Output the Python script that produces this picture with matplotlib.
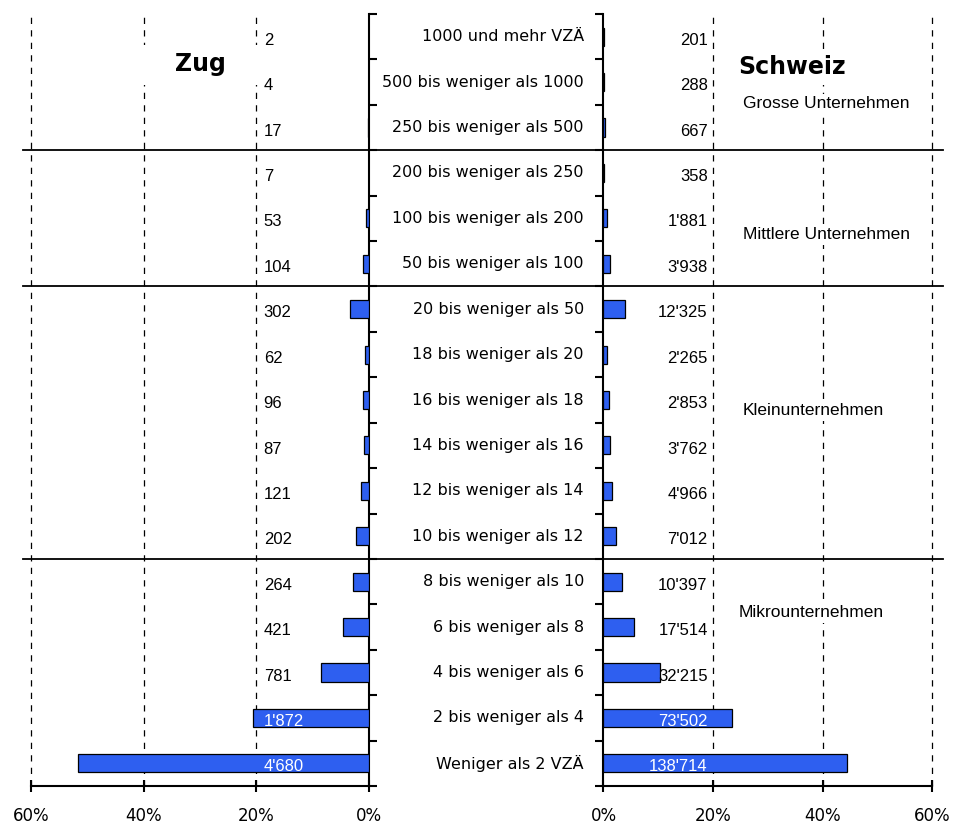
import numpy as np
import matplotlib
matplotlib.use("Agg")
import matplotlib.pyplot as plt
import matplotlib.transforms as mtransforms
from matplotlib.patches import Rectangle

plt.rcParams['font.family'] = ['Liberation Sans', 'DejaVu Sans']

# Grössenklassen (Vollzeitäquivalente), von oben nach unten
klassen = ["1000 und mehr VZÄ", "500 bis weniger als 1000", "250 bis weniger als 500",
           "200 bis weniger als 250", "100 bis weniger als 200", "50 bis weniger als 100",
           "20 bis weniger als 50", "18 bis weniger als 20", "16 bis weniger als 18",
           "14 bis weniger als 16", "12 bis weniger als 14", "10 bis weniger als 12",
           "8 bis weniger als 10", "6 bis weniger als 8", "4 bis weniger als 6",
           "2 bis weniger als 4", "Weniger als 2 VZÄ"]
zug = [2, 4, 17, 7, 53, 104, 302, 62, 96, 87, 121, 202, 264, 421, 781, 1872, 4680]
schweiz = [201, 288, 667, 358, 1881, 3938, 12325, 2265, 2853, 3762, 4966, 7012,
           10397, 17514, 32215, 73502, 138714]
gruppen = ["Grosse Unternehmen", "Mittlere Unternehmen", "Kleinunternehmen", "Mikrounternehmen"]
gruppen_y = [1.48, 4.35, 8.24, 12.69]
gruppen_x = [25.4, 25.4, 25.4, 24.6]
trenner = [2.5, 5.5, 11.5]
xticks = [0, 20, 40, 60]


def fmt(n):
    return "{:,}".format(n).replace(",", "'")


zug_pct = np.array(zug) / sum(zug) * 100
ch_pct = np.array(schweiz) / sum(schweiz) * 100
y = np.arange(len(klassen))

W, H = 954, 826
fig = plt.figure(figsize=(W / 100, H / 100), dpi=100)
ax_l = fig.add_axes([31 / W, 1 - 786 / H, 338 / W, 772 / H])
ax_r = fig.add_axes([603.5 / W, 1 - 786 / H, 329 / W, 772 / H])

bar_col = '#2e5ff0'
for ax, vals in [(ax_l, zug_pct), (ax_r, ch_pct)]:
    ax.barh(y, vals, height=0.4, color=bar_col, edgecolor='black', linewidth=0.9, zorder=3)
    ax.set_ylim(len(klassen) - 0.5, -0.5)
    ax.set_xticks(xticks)
    ax.set_xticklabels([f"{t}%" for t in xticks], fontsize=12, family='DejaVu Sans')
    ax.set_yticks(np.arange(-0.5, len(klassen)))
    ax.set_yticklabels([])
    ax.tick_params(axis='y', length=6, width=1.5, direction='out')
    ax.tick_params(axis='x', length=8, width=1.5, direction='inout', pad=11)
    ax.spines['top'].set_visible(False)
    ax.spines['bottom'].set_linewidth(1.5)
    for t in [20, 40, 60]:
        ax.axvline(t, color='black', lw=0.9, ls=(0, (5, 5)), zorder=1, clip_on=False)

# linke Seite: Zug (Achse gespiegelt)
ax_l.set_xlim(60, 0)
ax_l.spines['left'].set_visible(False)
ax_l.spines['right'].set_linewidth(1.5)
ax_l.yaxis.tick_right()

ax_r.set_xlim(0, 60)
ax_r.spines['right'].set_visible(False)
ax_r.spines['left'].set_linewidth(1.5)

for yy in trenner:
    ax_l.axhline(yy, xmin=-0.025, xmax=1.7, color='black', lw=1.3, clip_on=False, zorder=4)
    ax_r.axhline(yy, xmin=0, xmax=1.033, color='black', lw=1.3, clip_on=False, zorder=4)

# Werte
for i in range(len(klassen)):
    c = 'white' if zug_pct[i] > 20 else 'black'
    ax_l.text(18.7, i + 0.08, fmt(zug[i]), ha='left', va='center', fontsize=12, color=c, zorder=5)
    c = 'white' if ch_pct[i] > 20 else 'black'
    ax_r.text(19.0, i + 0.08, fmt(schweiz[i]), ha='right', va='center', fontsize=12, color=c, zorder=5)

# Klassenbeschriftung in der Mitte (rechtsbündig)
trans = mtransforms.blended_transform_factory(ax_l.transAxes, ax_l.transData)
for i, k in enumerate(klassen):
    ax_l.text((584 - 31) / 338, i, k, transform=trans, ha='right', va='center',
              fontsize=11.5, family='DejaVu Sans', clip_on=False)

# Titel
ax_l.add_patch(Rectangle((40.3, 0.18), -21.3, 0.88, facecolor='white', edgecolor='none', zorder=2))
ax_l.text(30.0, 0.6, "Zug", ha='center', va='center', fontsize=17, fontweight='bold',
          family='DejaVu Sans', zorder=6)
ax_r.text(24.6, 0.67, "Schweiz", ha='left', va='center', fontsize=17, fontweight='bold',
          family='DejaVu Sans', zorder=6, bbox=dict(facecolor='white', edgecolor='none', pad=4))

for g, gx, gy in zip(gruppen, gruppen_x, gruppen_y):
    ax_r.text(gx, gy, g, ha='left', va='center', fontsize=12.5, zorder=6,
              bbox=dict(facecolor='white', edgecolor='none', pad=2))

fig.savefig("out.png", dpi=100)
